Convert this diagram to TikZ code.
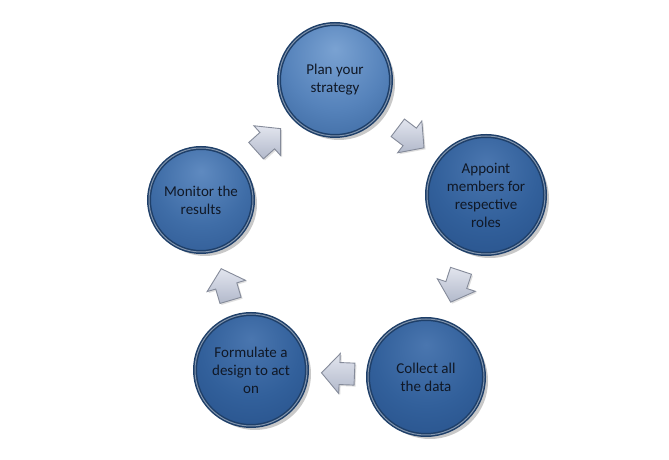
\documentclass[tikz,border=0pt]{standalone}
\usepackage{fontspec}
\setmainfont{Carlito}
\usetikzlibrary{shadows,calc}
\definecolor{textc}{HTML}{101826}
\definecolor{rimc}{HTML}{1E3F69}
\definecolor{arrowline}{HTML}{858B9A}
\definecolor{arrowtop}{HTML}{E2E5EE}
\definecolor{arrowbot}{HTML}{B2B9CB}
\definecolor{lightin}{HTML}{7AA2D2}
\definecolor{lightmid}{HTML}{5683BB}
\definecolor{lightout}{HTML}{2E5A92}
\definecolor{midin}{HTML}{5F8AC0}
\definecolor{midmid}{HTML}{3F6DA7}
\definecolor{midout}{HTML}{27508A}
\definecolor{darkin}{HTML}{4A76AF}
\definecolor{darkmid}{HTML}{32609B}
\definecolor{darkout}{HTML}{224A82}
\pgfdeclareradialshading{caplight}{\pgfpoint{0bp}{14bp}}{color(0bp)=(lightin); color(22bp)=(lightmid); color(48bp)=(lightout); color(70bp)=(lightout)}
\pgfdeclareradialshading{capmid}{\pgfpoint{0bp}{14bp}}{color(0bp)=(midin); color(22bp)=(midmid); color(48bp)=(midout); color(70bp)=(midout)}
\pgfdeclareradialshading{capdark}{\pgfpoint{0bp}{14bp}}{color(0bp)=(darkin); color(22bp)=(darkmid); color(48bp)=(darkout); color(70bp)=(darkout)}
\tikzset{
  stepcircle/.style={circle, align=center, text=textc,
    font=\fontsize{15}{18}\selectfont, draw=rimc, line width=4pt, inner sep=0pt,
    postaction={draw=white, draw opacity=0.45, line width=1pt},
    drop shadow={shadow xshift=4pt, shadow yshift=-4pt, opacity=0.3, fill=black!70}},
  arrowbody/.style={draw=arrowline, line width=0.9pt, line join=miter,
    top color=arrowtop, bottom color=arrowbot,
    drop shadow={shadow xshift=1.5pt, shadow yshift=-1.5pt, opacity=0.25}},
  blockarr/.pic={
    \draw[arrowbody] (-16,-11) -- (-1,-11) -- (-1,-20) -- (17,0) -- (-1,20) -- (-1,11) -- (-16,11) -- cycle;
  }
}
\newcommand\flowbetween[2]{%
  \path let \p1=($(#2)-(#1)$), \n1={atan2(\y1,\x1)} in
    pic[rotate=\n1] at ($(#1)!0.5!(#2)$) {blockarr};}
\begin{document}
\begin{tikzpicture}[x=1pt,y=1pt]
\fill[white] (0,0) rectangle (669,460);
\useasboundingbox (0,0) rectangle (669,460);
\node[stepcircle, shading=caplight, minimum size=112pt] (plan) at (335,380) {Plan your\\strategy};
\node[stepcircle, shading=capdark, minimum size=118pt] (appoint) at (486,265) {Appoint\\members for\\respective\\roles};
\node[stepcircle, shading=capdark, minimum size=116pt] (collect) at (426,83) {Collect all\\the data};
\node[stepcircle, shading=capdark, minimum size=112pt] (formulate) at (251,90) {Formulate a\\design to act\\on};
\node[stepcircle, shading=capmid, minimum size=104pt] (monitor) at (201,260) {Monitor the\\results};
\flowbetween{plan}{appoint}
\flowbetween{appoint}{collect}
\flowbetween{collect}{formulate}
\flowbetween{formulate}{monitor}
\flowbetween{monitor}{plan}
\end{tikzpicture}
\end{document}
